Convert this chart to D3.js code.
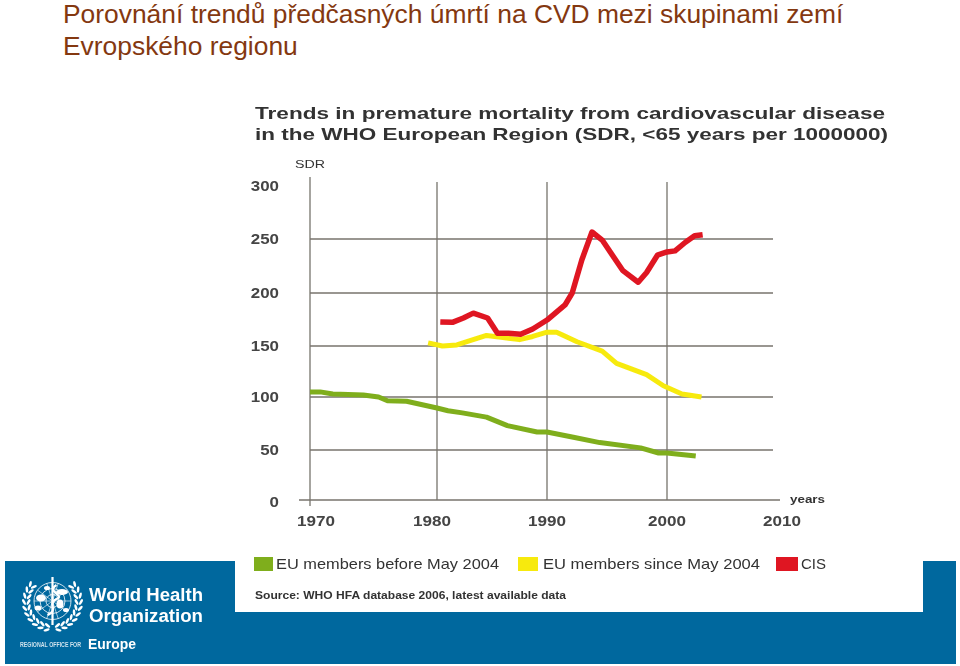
<!DOCTYPE html>
<html><head><meta charset="utf-8">
<script src="https://cdn.jsdelivr.net/npm/d3@7"></script>
<style>html,body{margin:0;padding:0;background:#fff}svg{display:block}</style>
</head><body><svg id="c" width="960" height="666"></svg>
<script>
const slideTitle = ["Porovnání trendů předčasných úmrtí na CVD mezi skupinami zemí", "Evropského regionu"];
const chartTitle = ["Trends in premature mortality from cardiovascular disease", "in the WHO European Region (SDR, <65 years per 1000000)"];
const yTicks = [0, 50, 100, 150, 200, 250, 300];
const xTicks = [1970, 1980, 1990, 2000, 2010];
const vGrid = [1980, 1990, 2000];
const legendLabels = ["EU members before May 2004", "EU members since May 2004", "CIS"];
const colors = ["#7fae1e", "#f7ea10", "#df1522"];
const sourceText = "Source: WHO HFA database 2006, latest available data";

const greenYears = [1970,1970.8,1971.8,1974.2,1975.4,1976.1,1977.6,1980,1981,1982.3,1984.5,1986.4,1989.1,1990,1992.2,1994.4,1997.8,1999.3,2000,2002.5];
const greenValues = [105,105,103,102,100,96.5,96,89.6,87,85,81,73,67,67,62,57,52,47,47,44];
const yellowYears = [1979.3,1980.5,1981.8,1983,1984.5,1986,1987.5,1988.7,1990,1990.8,1992.5,1994.6,1995.8,1998.3,1999.7,2001.3,2003];
const yellowValues = [153,150,151,155,160,158,156,159,163,163,154,145,133,122,111,103,100];
const redYears = [1980.3,1981.4,1982.4,1983.3,1984.6,1985.5,1986.5,1987.6,1988.7,1990,1991.5,1992.1,1992.9,1993.75,1994.6,1996.3,1997.6,1998.3,1999.2,2000,2000.7,2001.6,2002.4,2003.1];
const redValues = [172.6,172.3,176.4,181,176.4,162,162,161,166,174.5,188.7,200,230.6,256.6,249,221,210,219,235,238,239,247,253,254];

// The source bitmap's axes are slightly irregular, hence piecewise scales.
const x = d3.scaleLinear().domain(xTicks).range([310,437,547,667,782]);
const y = d3.scaleLinear().domain(yTicks).range([500,450,397,346,293,239,186]);
const xLabelPos = d3.scaleOrdinal().domain(xTicks).range([316,432,547,667,782]);

const svg = d3.select("#c");
const defs = svg.append("defs");
defs.append("filter").attr("id","soft").append("feGaussianBlur").attr("stdDeviation",0.5);
defs.append("filter").attr("id","soft2").append("feGaussianBlur").attr("stdDeviation",0.3);

const band = "#00689e";
svg.append("rect").attr("x",5).attr("y",561).attr("width",951).attr("height",103).attr("fill",band);
svg.append("rect").attr("x",235).attr("y",561).attr("width",688).attr("height",51).attr("fill","#fff");

svg.append("g").selectAll("text").data(slideTitle).join("text")
  .attr("x",63).attr("y",(d,i)=>23+i*32).attr("font-family","Liberation Sans, Arial, sans-serif")
  .attr("font-size",26.4).attr("fill","#843810").text(d=>d);

const chart = svg.append("g").attr("filter","url(#soft)");
const F = "Liberation Sans, Arial, sans-serif";
const grid = "#77736c";

chart.append("g").selectAll("text").data(chartTitle).join("text")
  .attr("x",255).attr("y",(d,i)=>119+i*21).attr("font-family",F).attr("font-weight","bold")
  .attr("font-size",16.5).attr("fill","#333").attr("textLength",(d,i)=>i?633:630)
  .attr("lengthAdjust","spacingAndGlyphs").text(d=>d);
chart.append("text").attr("x",295).attr("y",168).attr("font-family",F).attr("font-size",11.5).attr("fill","#333")
  .attr("textLength",30).attr("lengthAdjust","spacingAndGlyphs").text("SDR");

chart.append("g").selectAll("line").data(yTicks.filter(d=>d>0&&d<300)).join("line")
  .attr("x1",x(1970)).attr("x2",773).attr("y1",d=>y(d)).attr("y2",d=>y(d))
  .attr("stroke",grid).attr("stroke-width",1.3);
chart.append("g").selectAll("line").data(vGrid).join("line")
  .attr("x1",d=>x(d)).attr("x2",d=>x(d)).attr("y1",182).attr("y2",y(0))
  .attr("stroke",grid).attr("stroke-width",1.3);
chart.append("line").attr("x1",x(1970)).attr("x2",x(1970)).attr("y1",177).attr("y2",506).attr("stroke",grid).attr("stroke-width",1.3);
chart.append("line").attr("x1",299).attr("x2",780).attr("y1",y(0)).attr("y2",y(0)).attr("stroke",grid).attr("stroke-width",1.3);

chart.append("g").selectAll("text").data(yTicks).join("text")
  .attr("x",279).attr("y",d=>y(d)+(d===0?7:5)).attr("text-anchor","end")
  .attr("font-family",F).attr("font-weight","bold").attr("font-size",14).attr("fill","#444")
  .attr("textLength",d=>String(d).length*9.4).attr("lengthAdjust","spacingAndGlyphs").text(d=>d);
chart.append("g").selectAll("text").data(xTicks).join("text")
  .attr("x",d=>xLabelPos(d)).attr("y",526).attr("text-anchor","middle")
  .attr("font-family",F).attr("font-weight","bold").attr("font-size",14).attr("fill","#444")
  .attr("textLength",38).attr("lengthAdjust","spacingAndGlyphs").text(d=>d);
chart.append("text").attr("x",790).attr("y",503).attr("font-family",F).attr("font-weight","bold").attr("font-size",11).attr("fill","#333")
  .attr("textLength",35).attr("lengthAdjust","spacingAndGlyphs").text("years");

const line = d3.line().x(d=>x(d[0])).y(d=>y(d[1])).curve(d3.curveLinear);
[[greenYears,greenValues,colors[0],5],[yellowYears,yellowValues,colors[1],5],[redYears,redValues,colors[2],5.5]].forEach(([xs,ys,c,w])=>{
  chart.append("path").datum(d3.zip(xs,ys)).attr("d",line).attr("fill","none").attr("stroke",c)
    .attr("stroke-width",w).attr("stroke-linejoin","round");
});

const lgX = [254,518,776], lgTx = [276,543,801], lgW = [19,20,22], lgLen=[223,217,25];
const lg = chart.append("g");
legendLabels.forEach((t,i)=>{
  lg.append("rect").attr("x",lgX[i]).attr("y",557).attr("width",lgW[i]).attr("height",14).attr("fill",colors[i]);
  lg.append("text").attr("x",lgTx[i]).attr("y",569).attr("font-family",F).attr("font-size",14.5).attr("fill","#333")
    .attr("textLength",lgLen[i]).attr("lengthAdjust","spacingAndGlyphs").text(t);
});
chart.append("text").attr("x",255).attr("y",599).attr("font-family",F).attr("font-weight","bold").attr("font-size",10)
  .attr("fill","#333").attr("textLength",311).attr("lengthAdjust","spacingAndGlyphs").text(sourceText);

// WHO logo
const logo = svg.append("g").attr("filter","url(#soft2)").attr("fill","#fff");
const L = "Liberation Sans, sans-serif";
logo.append("text").attr("x",89).attr("y",601).attr("font-family",L).attr("font-weight",700).attr("font-size",18.7)
  .attr("textLength",114).attr("lengthAdjust","spacingAndGlyphs").text("World Health");
logo.append("text").attr("x",89).attr("y",622).attr("font-family",L).attr("font-weight",700).attr("font-size",18.7)
  .attr("textLength",114).attr("lengthAdjust","spacingAndGlyphs").text("Organization");
logo.append("text").attr("x",88).attr("y",649).attr("font-family",L).attr("font-weight",700).attr("font-size",15)
  .attr("textLength",48).attr("lengthAdjust","spacingAndGlyphs").text("Europe");
logo.append("text").attr("x",20).attr("y",647).attr("font-family",F).attr("font-weight",700).attr("font-size",6.5)
  .attr("textLength",61).attr("lengthAdjust","spacingAndGlyphs").attr("opacity",0.8).text("REGIONAL OFFICE FOR");

const cx=52.5, cy=601;
const em = logo.append("g").attr("fill","none").attr("stroke","#fff");
[18.5,12.5,6.5].forEach(r=>em.append("circle").attr("cx",cx).attr("cy",cy).attr("r",r).attr("stroke-width",0.8));
d3.range(0,180,36).forEach(a=>{const t=a*Math.PI/180;
  em.append("line").attr("x1",cx-18.5*Math.cos(t)).attr("y1",cy-18.5*Math.sin(t)).attr("x2",cx+18.5*Math.cos(t)).attr("y2",cy+18.5*Math.sin(t)).attr("stroke-width",0.6);});
[[41,598,5,3.5],[38,608,3.5,2.5],[62,592,6,3],[60,604,3.5,4.5],[66,610,3,2],[47,588,3,2]].forEach(b=>
  logo.append("ellipse").attr("cx",b[0]).attr("cy",b[1]).attr("rx",b[2]).attr("ry",b[3]));
// wreath: leaves on both sides, in rows, from bottom (a=12deg) up to a=125deg
[-1,1].forEach(s=>{
  d3.range(12,130,13).forEach(a=>{
    const t=a*Math.PI/180;
    [[24,-28],[28.5,28]].forEach(([r,tilt])=>{
      const px=cx+s*r*Math.sin(t), py=cy+1+r*Math.cos(t);
      logo.append("ellipse").attr("cx",px).attr("cy",py).attr("rx",1.3).attr("ry",3.2)
        .attr("transform",`rotate(${s*(90+90-a+ (-90) + 90 - 90 + tilt)},${px},${py})`);
    });
  });
});
logo.append("rect").attr("x",cx-1.1).attr("y",577).attr("width",2.2).attr("height",48);
em.append("path").attr("d",`M${cx-5},${cy+14} C${cx+8},${cy+8} ${cx-8},${cy+3} ${cx+6},${cy-3} C${cx+10},${cy-6} ${cx-6},${cy-10} ${cx+4},${cy-16}`).attr("stroke-width",2.2);
</script></body></html>
